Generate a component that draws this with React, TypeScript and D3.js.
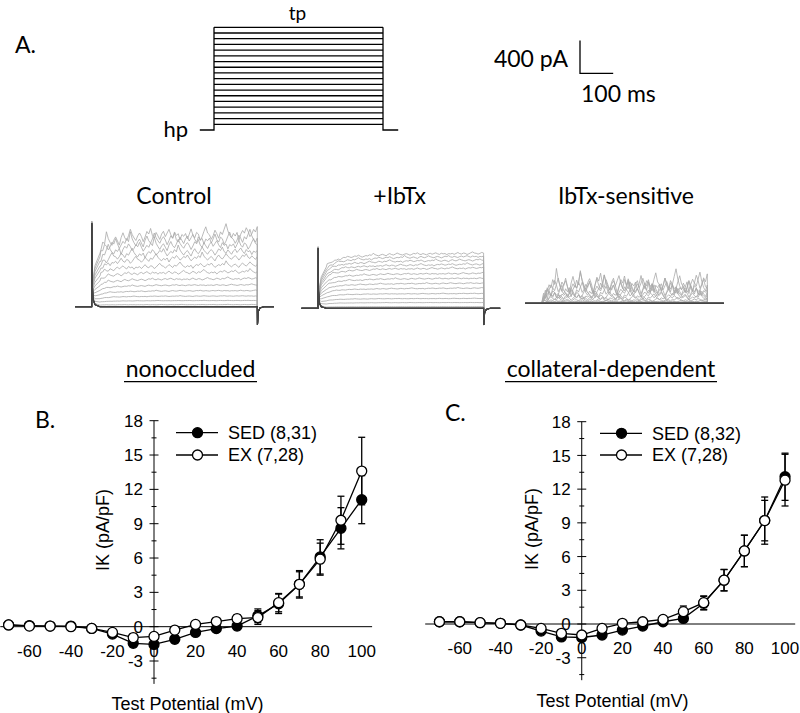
import React from "react";
import * as d3 from "d3";

// test potentials (mV) used for the step protocol and the I-V curves
const testPotentials = [-70, -60, -50, -40, -30, -20, -10, 0, 10, 20, 30, 40, 50, 60, 70, 80, 90, 100];
const holdingPotential = -80;

// B. nonoccluded (pA/pF)
const nonoccSedMean = [0.15, 0.1, 0.05, 0.05, -0.15, -0.65, -1.45, -1.55, -1.1, -0.5, -0.17, 0.05, 0.95, 2.0, 3.7, 6.1, 8.6, 11.1];
const nonoccSedErr = [0.1, 0.1, 0.1, 0.1, 0.15, 0.2, 0.3, 0.35, 0.3, 0.25, 0.25, 0.3, 0.6, 0.85, 1.1, 1.5, 1.8, 2.1];
const nonoccExMean = [0.15, 0.05, 0.05, 0.0, -0.15, -0.5, -0.95, -0.85, -0.3, 0.2, 0.45, 0.7, 0.8, 2.1, 3.7, 5.9, 9.3, 13.6];
const nonoccExErr = [0.1, 0.1, 0.1, 0.1, 0.15, 0.2, 0.3, 0.3, 0.25, 0.25, 0.3, 0.35, 0.6, 0.8, 1.2, 1.4, 2.1, 2.95];

// C. collateral-dependent (pA/pF)
const collatSedMean = [0.2, 0.2, 0.12, 0.06, -0.09, -0.63, -1.15, -1.2, -0.98, -0.54, -0.18, 0.2, 0.5, 1.85, 3.9, 6.5, 9.2, 13.1];
const collatSedErr = [0.1, 0.1, 0.1, 0.1, 0.15, 0.2, 0.3, 0.3, 0.3, 0.25, 0.25, 0.3, 0.35, 0.6, 0.95, 1.4, 1.8, 2.1];
const collatExMean = [0.2, 0.2, 0.12, 0.06, -0.09, -0.39, -0.83, -0.98, -0.39, 0.06, 0.2, 0.41, 1.1, 1.9, 3.9, 6.5, 9.2, 12.8];
const collatExErr = [0.1, 0.1, 0.1, 0.1, 0.15, 0.2, 0.3, 0.3, 0.25, 0.25, 0.25, 0.3, 0.5, 0.6, 0.95, 1.4, 2.1, 2.3];

const xTickValues = [-60, -40, -20, 0, 20, 40, 60, 80, 100];
const yTickValues = [-3, 0, 3, 6, 9, 12, 15, 18];

// representative current traces: steady-state amplitude per sweep (pA)
const controlAmp = [0, 0, 0, 0, 0, 25, 75, 130, 195, 265, 340, 420, 500, 590, 660, 740, 810, 870];
const ibtxAmp = [0, 0, 0, 0, 0, 20, 70, 120, 180, 245, 305, 365, 425, 490, 535, 585, 630, 670];
// activation time course (ms -> fraction)
const kinTimes = [0, 5, 10, 20, 35, 50, 75, 100, 150, 200, 300, 400, 500];
const kinFraction = [0, 0.35, 0.55, 0.72, 0.82, 0.87, 0.91, 0.93, 0.95, 0.97, 0.98, 0.99, 1.0];
// capacity transient at step onset (pA)
const capTimes = [0, 0.4, 1.5, 4, 10, 25];
const capValues = [0, 1020, 300, 90, 25, 0];
// tail transient at step offset (pA)
const tailTimes = [500.5, 503, 508, 520, 550];
const tailValues = [-220, -60, -15, 0, 0];
// BK channel noise profile
const bkNoise = [
  0.1, 0.4, -0.2, 0.3, 0.9, 0.2, -0.1, 0.5, 0.3, -0.4, 0.0, 0.6, 1.1, 0.4, 0.2, -0.3, 0.1, 0.7, 0.3, -0.2,
  0.5, 0.2, 0.8, 1.4, 0.6, 0.1, -0.2, 0.3, 0.0, 0.4, -0.5, 0.2, 0.6, 0.3, 0.9, 0.5, -0.1, 0.2, 0.7, 0.4,
  1.0, 0.3, -0.3, 0.1, 0.5, 0.2, 0.8, 0.4, 1.6, 0.7, 0.2, -0.2, 0.3, 0.6, 0.1, -0.4, 0.4, 0.9, 0.3, 0.0,
  0.5, 1.2, 0.6, 0.2, -0.1, 0.4, 0.7, 0.3, -0.3, 0.2, 0.8, 0.5, 1.1, 0.3, 0.0, 0.6, 0.2, -0.2, 0.4, 0.7,
  0.1, 0.5, 0.9, 0.3, -0.1, 0.6, 0.2, 0.4, -0.3, 0.3,
];

const calibri = "Lato, 'Open Sans', sans-serif";
const arial = "'Liberation Sans', Arial, sans-serif";

const kin = d3.scaleLinear().domain(kinTimes).range(kinFraction).clamp(true);
const cap = d3.scaleLinear().domain(capTimes).range(capValues).clamp(true);

type Pt = [number, number];

const buildTrace = (amp: number, noiseAmp: number, shift: number, capScale: number, tailScale: number): Pt[] => {
  const pts: Pt[] = [[-50, 0], [0, 0]];
  if (capScale > 0) capTimes.slice(1).forEach((t) => pts.push([t, amp * kin(t) + capScale * cap(t)]));
  const lastCap = capScale > 0 ? capTimes[capTimes.length - 1] : 0;
  bkNoise.forEach((_, i) => {
    const t = ((i + 1) * 500) / bkNoise.length;
    if (t > lastCap) pts.push([t, amp * kin(t) + noiseAmp * bkNoise[(i + shift) % bkNoise.length]]);
  });
  if (tailScale > 0) tailTimes.forEach((t, k) => pts.push([t, tailScale * tailValues[k]]));
  else pts.push([500.5, 0], [550, 0]);
  return pts;
};

const TracePanel = ({ x0, base, kind }: { x0: number; base: number; kind: string }) => {
  const tx = d3.scaleLinear().domain([0, 500]).range([x0, x0 + 165.6]);
  const ty = d3.scaleLinear().domain([0, 400]).range([base, base - 32.7]);
  const line = d3.line<Pt>().x((d) => tx(d[0])).y((d) => ty(d[1]));
  const order = d3.range(testPotentials.length).sort((a, b) => (controlAmp[a] === 0 ? 1 : 0) - (controlAmp[b] === 0 ? 1 : 0));
  return (
    <g>
      {order.map((i) => {
        const diff = controlAmp[i] - ibtxAmp[i];
        let pts: Pt[];
        if (kind === "control") pts = buildTrace(controlAmp[i], 0.55 * diff, i * 13, 1, 1);
        else if (kind === "ibtx") pts = buildTrace(ibtxAmp[i], 0.03 * ibtxAmp[i], i * 17, 0.72, 0.93);
        else pts = buildTrace(diff, 0.8 * diff, i * 13, 0, 0);
        const zero = controlAmp[i] === 0;
        return (
          <path key={i} d={line(pts) || ""} fill="none" stroke={zero ? "#444" : "#a8a8a8"} strokeWidth={zero ? 1.1 : 0.8} />
        );
      })}
    </g>
  );
};

const Protocol = () => {
  const t = d3.scaleLinear().domain([0, 500]).range([214, 383]);
  const v = d3.scaleLinear().domain([holdingPotential, 100]).range([130, 27.3]);
  const top = d3.max(testPotentials) as number;
  return (
    <g stroke="#000" strokeWidth={1.3} fill="none">
      <path d={`M${t(-42)},${v(holdingPotential)}H${t(0)}V${v(top)}`} />
      <path d={`M${t(500)},${v(top)}V${v(holdingPotential)}H${t(545)}`} />
      {testPotentials.map((p) => (
        <line key={p} x1={t(0)} x2={t(500)} y1={v(p)} y2={v(p)} />
      ))}
    </g>
  );
};

type Layout = {
  xDomain: [number, number];
  xRange: [number, number];
  yRange: [number, number];
  legendX: number;
  legendY: [number, number];
  yLabel: [number, number];
  xLabel: [number, number];
};

const IVPanel = ({ layout, sed, sedErr, ex, exErr, sedLabel, exLabel }: {
  layout: Layout; sed: number[]; sedErr: number[]; ex: number[]; exErr: number[]; sedLabel: string; exLabel: string;
}) => {
  const x = d3.scaleLinear().domain(layout.xDomain).range(layout.xRange);
  const y = d3.scaleLinear().domain([-5, 18]).range(layout.yRange);
  const line = d3.line<number>().x((_, i) => x(testPotentials[i])).y((d) => y(d));
  const ax = x(0);
  const ay = y(0);
  const minor = d3.range(-4.5, 18.01, 1.5);

  const series = (mean: number[], err: number[], fill: string) => (
    <g>
      {mean.map((m, i) => (
        <g key={i} stroke="#000" strokeWidth={1.3}>
          <line x1={x(testPotentials[i])} x2={x(testPotentials[i])} y1={y(m - err[i])} y2={y(m + err[i])} />
          <line x1={x(testPotentials[i]) - 3.5} x2={x(testPotentials[i]) + 3.5} y1={y(m + err[i])} y2={y(m + err[i])} />
          <line x1={x(testPotentials[i]) - 3.5} x2={x(testPotentials[i]) + 3.5} y1={y(m - err[i])} y2={y(m - err[i])} />
        </g>
      ))}
      <path d={line(mean) || ""} fill="none" stroke="#000" strokeWidth={1.3} />
      {mean.map((m, i) => (
        <circle key={i} cx={x(testPotentials[i])} cy={y(m)} r={5} fill={fill} stroke="#000" strokeWidth={1.3} />
      ))}
    </g>
  );

  return (
    <g fontFamily={arial}>
      {/* axes */}
      <line x1={layout.xRange[0]} x2={layout.xRange[1]} y1={ay} y2={ay} stroke="#000" strokeWidth={1} />
      <line x1={ax} x2={ax} y1={y(-5)} y2={y(18)} stroke="#000" strokeWidth={1} />
      {minor.map((v) => (
        <line key={v} x1={ax - (v % 3 === 0 ? 4.5 : 2.5)} x2={ax + (v % 3 === 0 ? 4.5 : 2.5)} y1={y(v)} y2={y(v)} stroke="#000" strokeWidth={1} />
      ))}
      {yTickValues.map((v) => (
        <text key={v} x={ax - 11} y={y(v)} dy="0.36em" textAnchor="end" fontSize={17}>{v}</text>
      ))}
      {xTickValues.map((v) => (
        <text key={v} x={x(v)} y={ay + 30} textAnchor="middle" fontSize={17}>{v}</text>
      ))}
      <text transform={`translate(${layout.yLabel[0]},${layout.yLabel[1]}) rotate(-90)`} textAnchor="middle" dy="0.36em" fontSize={18}>IK (pA/pF)</text>
      <text x={layout.xLabel[0]} y={layout.xLabel[1]} textAnchor="middle" fontSize={18}>Test Potential (mV)</text>

      {series(sed, sedErr, "#000")}
      {series(ex, exErr, "#fff")}

      {/* legend */}
      {[sedLabel, exLabel].map((label, k) => (
        <g key={label}>
          <line x1={layout.legendX} x2={layout.legendX + 42} y1={layout.legendY[k]} y2={layout.legendY[k]} stroke="#000" strokeWidth={1.3} />
          <circle cx={layout.legendX + 21.5} cy={layout.legendY[k]} r={5} fill={k === 0 ? "#000" : "#fff"} stroke="#000" strokeWidth={1.3} />
          <text x={layout.legendX + 52} y={layout.legendY[k]} dy="0.36em" fontSize={18}>{label}</text>
        </g>
      ))}
    </g>
  );
};

const layoutB: Layout = {
  xDomain: [-74, 105],
  xRange: [0.3, 372.1],
  yRange: [683.9, 420.7],
  legendX: 176,
  legendY: [432.7, 455],
  yLabel: [103, 530],
  xLabel: [187.5, 710],
};

const layoutC: Layout = {
  xDomain: [-77, 105],
  xRange: [425.2, 795.2],
  yRange: [680.2, 421.7],
  legendX: 600,
  legendY: [433.3, 455],
  yLabel: [532, 529],
  xLabel: [612.5, 707],
};

const App = () => {
  const scaleT = d3.scaleLinear().domain([0, 100]).range([580, 613.2]);
  const scaleI = d3.scaleLinear().domain([0, 400]).range([73.3, 40.6]);
  return (
    <svg width={800} height={713} style={{ position: "absolute", left: 0, top: 0, background: "#fff" }}>
      <rect width={800} height={713} fill="#fff" />
      <g fontFamily={calibri} fill="#000">
        <text x={15} y={52.5} fontSize={23}>A.</text>
        <text x={297.5} y={20} fontSize={19} textAnchor="middle">tp</text>
        <text x={188} y={137} fontSize={22} textAnchor="end">hp</text>
        <text x={568} y={67} fontSize={23} textAnchor="end">400 pA</text>
        <text x={581} y={102} fontSize={23}>100 ms</text>
        <text x={174} y={204} fontSize={23} textAnchor="middle">Control</text>
        <text x={399.7} y={204} fontSize={23} textAnchor="middle">+IbTx</text>
        <text x={626} y={204} fontSize={23} textAnchor="middle">IbTx-sensitive</text>
        <text x={190.5} y={376.7} fontSize={23} textAnchor="middle">nonoccluded</text>
        <line x1={124} x2={257} y1={381.7} y2={381.7} stroke="#000" strokeWidth={1.3} />
        <text x={611} y={376.7} fontSize={23} textAnchor="middle">collateral-dependent</text>
        <line x1={505} x2={717} y1={381.7} y2={381.7} stroke="#000" strokeWidth={1.3} />
        <text x={35} y={428} fontSize={23}>B.</text>
        <text x={445} y={421} fontSize={23}>C.</text>
      </g>

      <Protocol />
      <path d={`M${scaleT(0)},${scaleI(400)}V${scaleI(0)}H${scaleT(100)}`} fill="none" stroke="#000" strokeWidth={1.3} />

      <TracePanel x0={91.7} base={306.7} kind="control" />
      <TracePanel x0={318} base={308.3} kind="ibtx" />
      <TracePanel x0={541.7} base={303.3} kind="sensitive" />

      <IVPanel layout={layoutB} sed={nonoccSedMean} sedErr={nonoccSedErr} ex={nonoccExMean} exErr={nonoccExErr} sedLabel="SED (8,31)" exLabel="EX (7,28)" />
      <IVPanel layout={layoutC} sed={collatSedMean} sedErr={collatSedErr} ex={collatExMean} exErr={collatExErr} sedLabel="SED (8,32)" exLabel="EX (7,28)" />
    </svg>
  );
};

export default App;
